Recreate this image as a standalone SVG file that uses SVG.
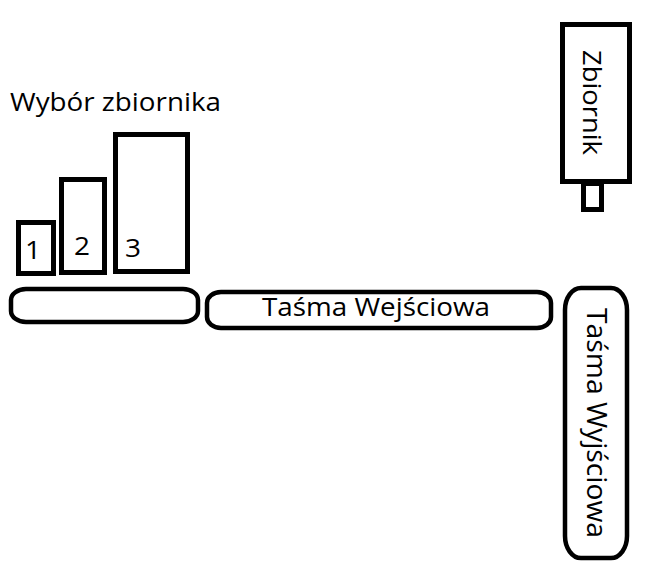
<svg xmlns="http://www.w3.org/2000/svg" width="664" height="577" viewBox="0 0 664 577">
<style>
.s{fill:#fff;stroke:#000;stroke-width:5}
.b{fill:#fff;stroke:#000;stroke-width:4.5}
.t{font-family:"Open Sans","Noto Sans","DejaVu Sans",sans-serif;font-size:25px;fill:#000}
</style>
<rect width="664" height="577" fill="#fff"/>
<g id="label-wybor"><text class="t" x="10" y="111" textLength="211" lengthAdjust="spacingAndGlyphs">Wybór zbiornika</text></g>
<g id="tank1"><rect class="s" x="18.5" y="222.5" width="35" height="51"/><text class="t" x="25" y="259" textLength="16" lengthAdjust="spacingAndGlyphs">1</text></g>
<g id="tank2"><rect class="s" x="61.5" y="179.5" width="43" height="93"/><text class="t" x="74" y="255" textLength="16" lengthAdjust="spacingAndGlyphs">2</text></g>
<g id="tank3"><rect class="s" x="115.5" y="134.5" width="72" height="137"/><text class="t" x="125" y="257" textLength="16" lengthAdjust="spacingAndGlyphs">3</text></g>
<g id="belt-left"><rect class="b" x="11" y="289" width="187" height="33" rx="15" ry="11"/></g>
<g id="belt-in"><rect class="b" x="207" y="292" width="344" height="36" rx="14" ry="11"/><text class="t" x="262" y="316" textLength="228" lengthAdjust="spacingAndGlyphs">Taśma Wejściowa</text></g>
<g id="zbiornik"><rect class="s" x="562.5" y="24.5" width="67" height="157"/><rect class="s" x="583.5" y="183.5" width="18" height="26"/><text class="t" transform="translate(583,50) rotate(90)" x="0" y="0" textLength="105" lengthAdjust="spacingAndGlyphs">Zbiornik</text></g>
<g id="belt-out"><rect class="b" x="565" y="288" width="62" height="270" rx="16" ry="22"/><text class="t" transform="translate(587,308) rotate(90)" x="0" y="0" textLength="230" lengthAdjust="spacingAndGlyphs" style="font-size:27px">Taśma Wyjściowa</text></g>
<g id="connectors"></g>
</svg>
